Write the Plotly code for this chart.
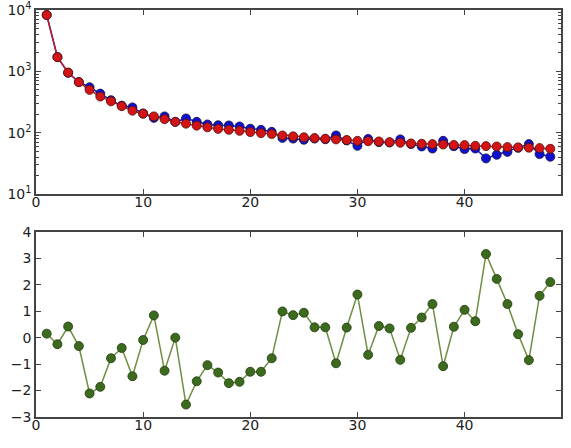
import plotly.graph_objects as go
from plotly.subplots import make_subplots

x = list(range(1, 49))

observed = [8300, 1710, 945, 670, 550, 433, 338, 276, 258, 205,
            174, 184, 150, 170, 150, 136, 132, 131, 126, 116,
            111, 103, 82, 80, 76.5, 80, 78, 90, 74.6, 61,
            79, 70, 69, 77.6, 65, 59.5, 55, 73.6, 60, 54,
            55, 38, 43.5, 48.5, 56.5, 65, 44.7, 40.5]

model = [8300, 1700, 955, 665, 498, 387, 324, 270, 228, 204,
         184, 166, 150, 140, 130, 122, 115, 111, 107, 102,
         98, 95, 90, 87, 84, 81.6, 79.6, 77.6, 75.8, 73.6,
         72.5, 71.8, 70, 68.4, 66.7, 66, 65, 64, 63, 62.6,
         61, 60.3, 59.5, 58.2, 57.5, 56.8, 56, 54.6]

residuals = [0.15, -0.25, 0.42, -0.32, -2.11, -1.86, -0.78, -0.39, -1.46, -0.09,
             0.84, -1.25, 0.0, -2.53, -1.65, -1.04, -1.32, -1.72, -1.67, -1.29,
             -1.29, -0.78, 0.99, 0.85, 0.94, 0.39, 0.39, -0.97, 0.38, 1.63,
             -0.65, 0.44, 0.35, -0.84, 0.37, 0.76, 1.27, -1.08, 0.41, 1.05,
             0.62, 3.16, 2.22, 1.27, 0.13, -0.85, 1.58, 2.10]

log_tickvals = [10, 100, 1000, 10000]
log_ticktext = ["10<sup>1</sup>", "10<sup>2</sup>", "10<sup>3</sup>", "10<sup>4</sup>"]

fig = make_subplots(rows=2, cols=1, vertical_spacing=0.0)

fig.add_trace(go.Scatter(
    x=x, y=observed, mode="lines+markers",
    line=dict(color="#1a1acc", width=1.5),
    marker=dict(color="#1010d0", size=9, line=dict(color="#101040", width=0.8)),
    showlegend=False), row=1, col=1)

fig.add_trace(go.Scatter(
    x=x, y=model, mode="lines+markers",
    line=dict(color="#b82020", width=1.5),
    marker=dict(color="#d41414", size=9, line=dict(color="#501010", width=0.8)),
    showlegend=False), row=1, col=1)

fig.add_trace(go.Scatter(
    x=x, y=residuals, mode="lines+markers",
    line=dict(color="#6f8f40", width=1.5),
    marker=dict(color="#3d6b1e", size=9, line=dict(color="#1e3a0e", width=0.8)),
    showlegend=False), row=2, col=1)

axis_common = dict(
    showline=True, mirror="ticks", linecolor="#444444", linewidth=1.5,
    ticks="inside", ticklen=5, tickcolor="#444444", tickwidth=1,
    showgrid=False, zeroline=False, automargin=False,
    tickfont=dict(family="DejaVu Sans", size=14, color="#222222"),
)

fig.update_xaxes(range=[0, 49], tickvals=[0, 10, 20, 30, 40], ticklabelstandoff=-6, **axis_common)
fig.update_yaxes(**axis_common)

fig.update_yaxes(type="log", range=[1, 4], tickvals=log_tickvals, ticktext=log_ticktext,
                 minor=dict(ticks="inside", ticklen=3, tickcolor="#444444", dtick="D1", showgrid=False),
                 row=1, col=1)
fig.update_yaxes(range=[-3, 4], tickvals=[-3, -2, -1, 0, 1, 2, 3, 4], row=2, col=1)

fig.update_layout(
    width=571, height=448,
    margin=dict(l=36, r=10, t=10, b=31),
    paper_bgcolor="white", plot_bgcolor="white",
    yaxis=dict(domain=[0.548, 1.0]),
    yaxis2=dict(domain=[0.0, 0.455]),
    font=dict(family="DejaVu Sans"),
)

fig.write_html("out.html")
